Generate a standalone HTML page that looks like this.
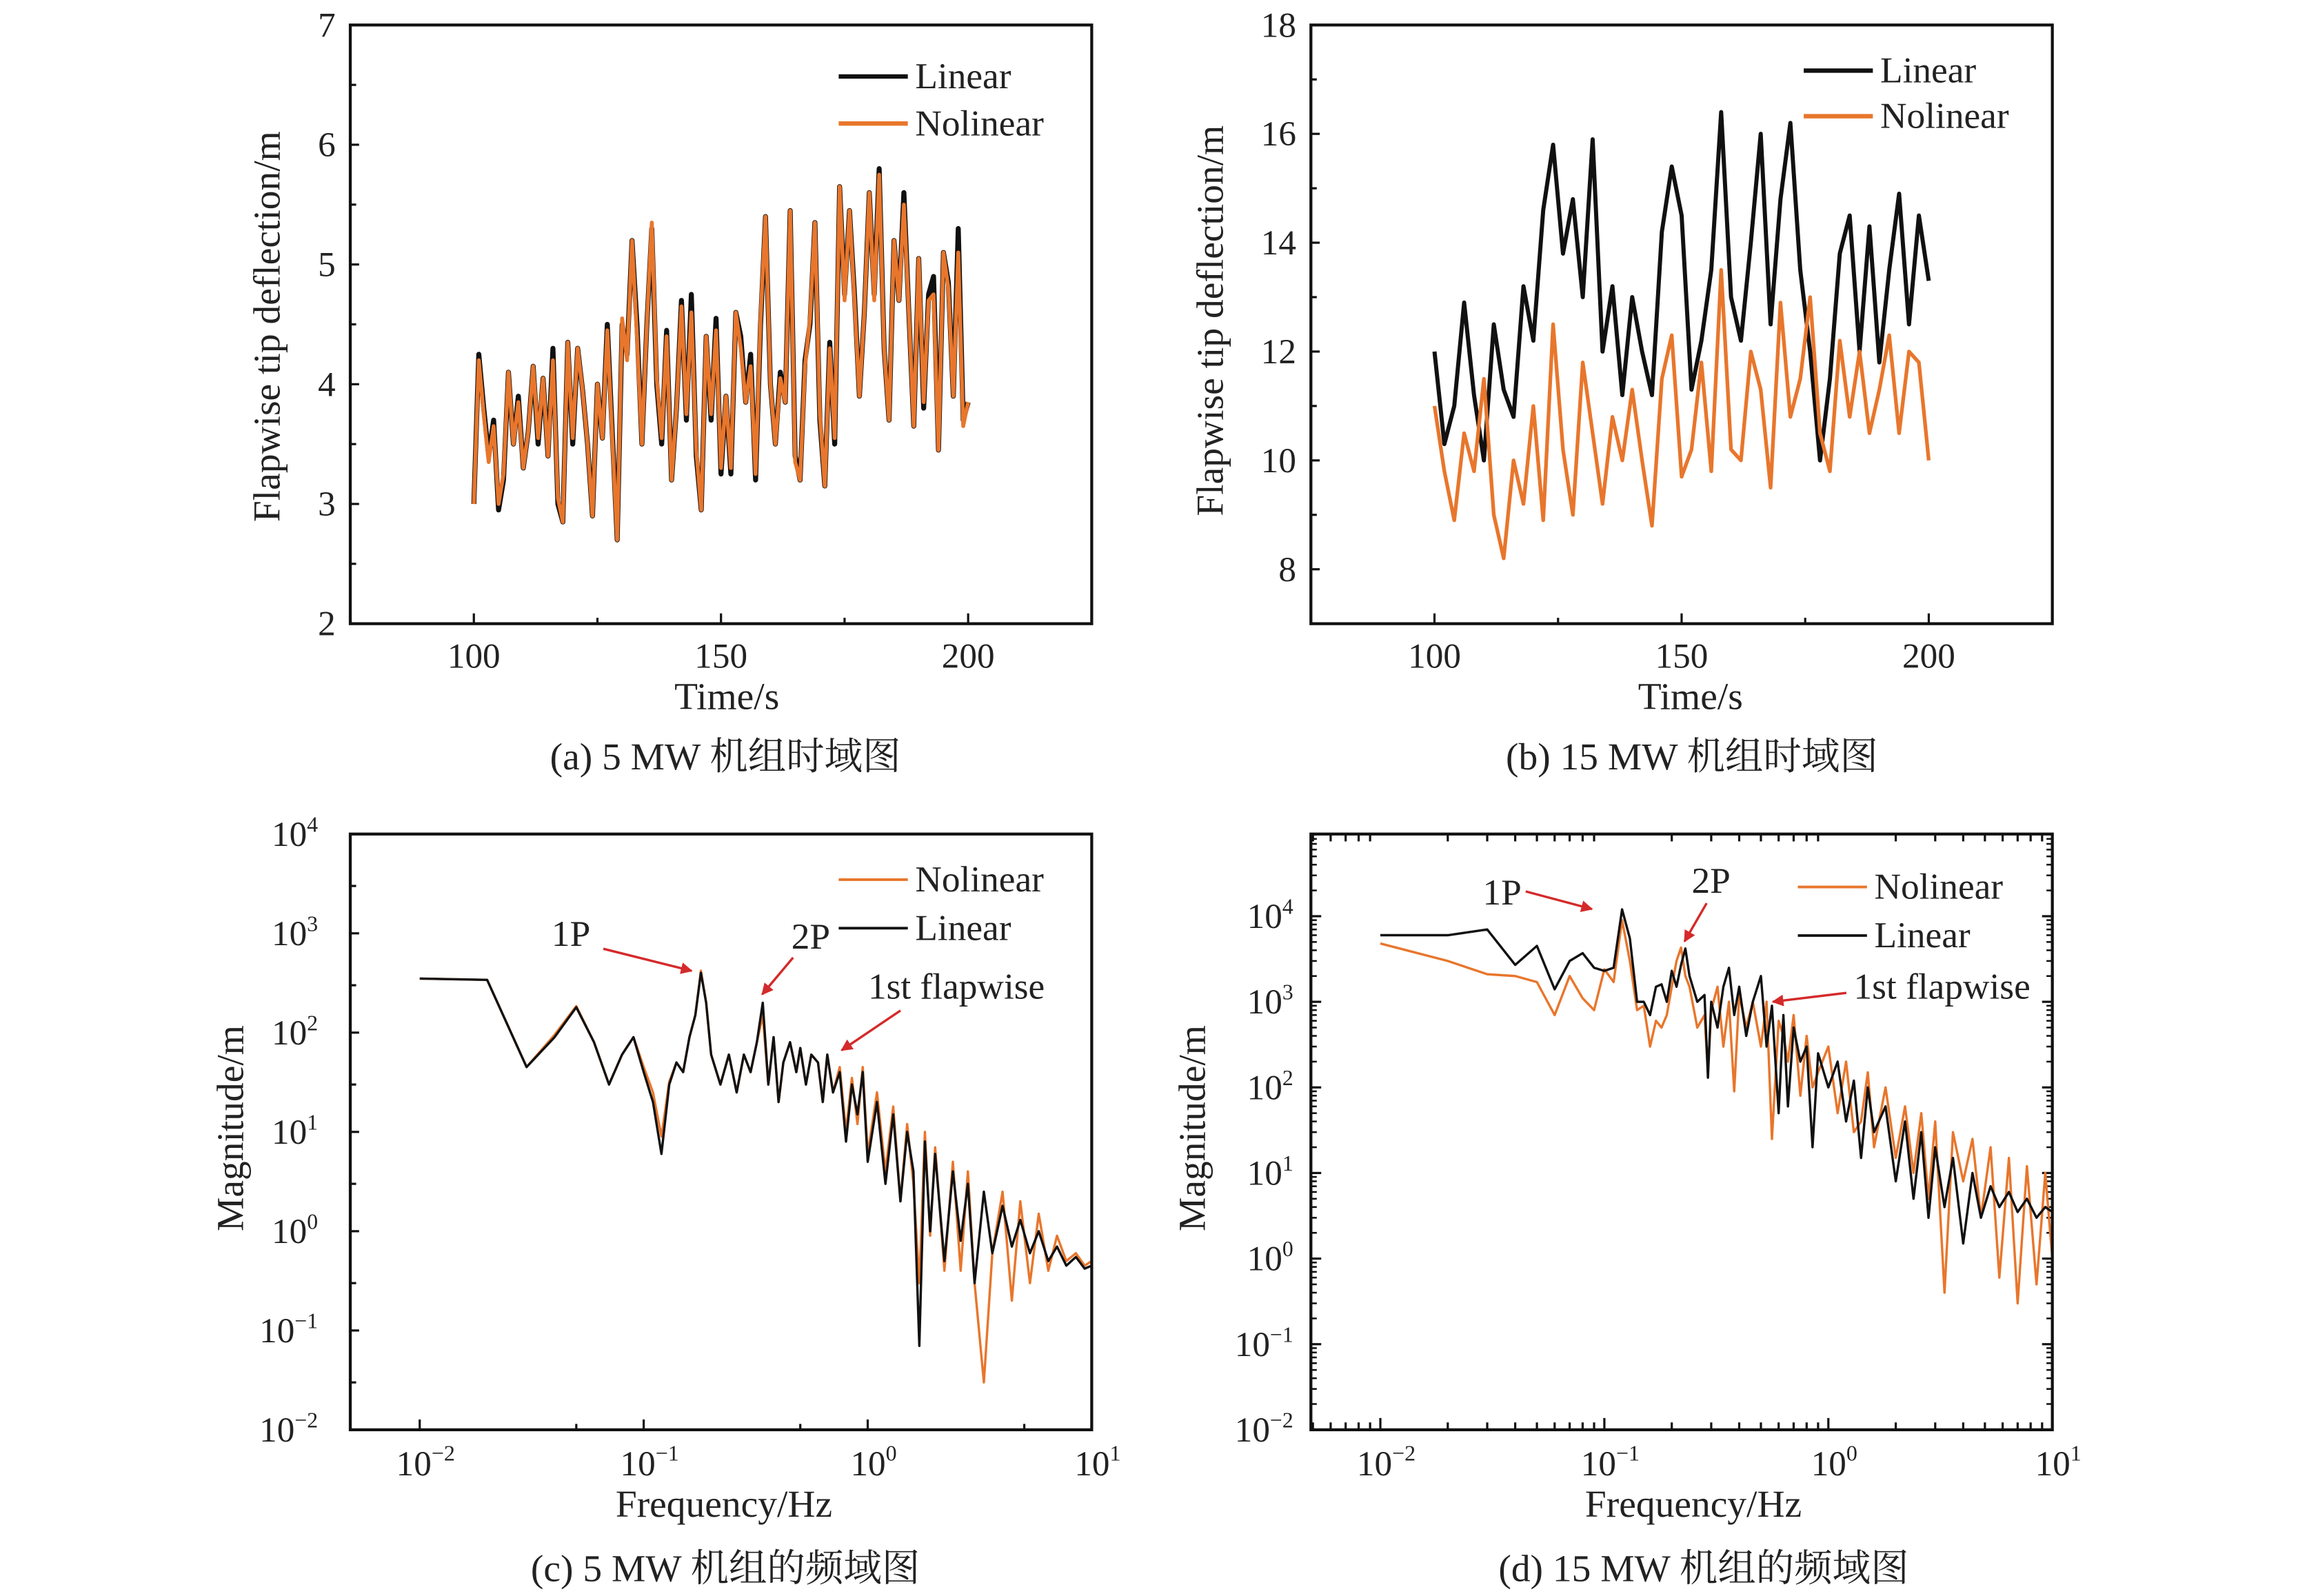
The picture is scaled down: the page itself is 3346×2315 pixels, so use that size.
<!DOCTYPE html>
<html><head><meta charset="utf-8"><style>
html,body{margin:0;padding:0;background:#fff;}
svg{display:block;}
text{font-family:"Liberation Serif","Noto Serif CJK SC",serif;fill:#222;}
</style></head><body>
<svg id="fig" width="3346" height="2315" viewBox="0 0 1568 1085" xmlns="http://www.w3.org/2000/svg">
<defs><marker id="arr" viewBox="0 0 10 10" refX="9" refY="5" markerWidth="5" markerHeight="5" orient="auto"><path d="M0,0 L10,5 L0,10 z" fill="#d42a2a"/></marker></defs>
</svg>
<script>
// ---- Data (a) 5MW time domain, t = 100..200 step 1 ----
const timeA = [100,101,102,103,104,105,106,107,108,109,110,111,112,113,114,115,116,117,118,119,120,121,122,123,124,125,126,127,128,129,130,131,132,133,134,135,136,137,138,139,140,141,142,143,144,145,146,147,148,149,150,151,152,153,154,155,156,157,158,159,160,161,162,163,164,165,166,167,168,169,170,171,172,173,174,175,176,177,178,179,180,181,182,183,184,185,186,187,188,189,190,191,192,193,194,195,196,197,198,199,200];
const linearA = [3.0,4.25,3.8,3.4,3.7,2.95,3.2,4.1,3.5,3.9,3.3,3.6,4.15,3.5,4.05,3.4,4.3,3.0,2.85,4.35,3.5,4.3,3.95,3.5,2.9,4.0,3.55,4.5,3.6,2.7,4.5,4.25,5.2,4.5,3.5,4.5,5.3,4.0,3.5,4.45,3.2,3.8,4.7,3.7,4.75,3.4,2.95,4.4,3.7,4.55,3.25,3.9,3.25,4.6,4.4,3.85,4.25,3.2,4.5,5.4,4.0,3.5,4.1,3.85,5.45,3.4,3.2,4.2,4.5,5.35,3.7,3.15,4.35,3.5,5.65,4.75,5.45,4.75,3.9,4.6,5.6,4.75,5.8,4.3,3.7,5.2,4.7,5.6,4.6,3.65,5.05,3.8,4.75,4.9,3.45,5.1,4.85,3.9,5.3,3.7,3.85];
const nonlinearA = [3.0,4.2,3.75,3.35,3.65,3.0,3.25,4.1,3.5,3.85,3.3,3.6,4.15,3.55,4.05,3.4,4.2,3.05,2.85,4.35,3.55,4.3,3.95,3.5,2.9,4.0,3.55,4.45,3.55,2.7,4.55,4.2,5.2,4.4,3.5,4.5,5.35,4.05,3.55,4.4,3.2,3.8,4.65,3.75,4.6,3.45,2.95,4.4,3.75,4.45,3.3,3.9,3.3,4.6,4.3,3.85,4.15,3.25,4.55,5.4,4.0,3.5,4.05,3.85,5.45,3.35,3.2,4.15,4.55,5.35,3.75,3.15,4.3,3.55,5.65,4.7,5.45,4.7,3.9,4.6,5.6,4.7,5.75,4.3,3.7,5.2,4.7,5.5,4.6,3.65,5.05,3.85,4.7,4.75,3.45,5.1,4.8,3.9,5.1,3.65,3.85];
// ---- Data (b) 15MW time domain, t = 100..200 step 2 ----
const timeB = [100,102,104,106,108,110,112,114,116,118,120,122,124,126,128,130,132,134,136,138,140,142,144,146,148,150,152,154,156,158,160,162,164,166,168,170,172,174,176,178,180,182,184,186,188,190,192,194,196,198,200];
const linearB = [12.0,10.3,11.0,12.9,11.2,10.0,12.5,11.3,10.8,13.2,12.2,14.6,15.8,13.8,14.8,13.0,15.9,12.0,13.2,11.2,13.0,12.0,11.2,14.2,15.4,14.5,11.3,12.2,13.5,16.4,13.0,12.2,14.0,16.0,12.5,14.8,16.2,13.5,12.0,10.0,11.5,13.8,14.5,12.0,14.3,11.8,13.5,14.9,12.5,14.5,13.3];
const nonlinearB = [11.0,9.8,8.9,10.5,9.8,11.5,9.0,8.2,10.0,9.2,11.0,8.9,12.5,10.2,9.0,11.8,10.5,9.2,10.8,10.0,11.3,10.0,8.8,11.5,12.3,9.7,10.2,11.8,9.8,13.5,10.2,10.0,12.0,11.3,9.5,12.9,10.8,11.5,13.0,10.5,9.8,12.2,10.8,12.0,10.5,11.3,12.3,10.5,12.0,11.8,10.0];
// ---- Data (c) 5MW spectrum ----
const freqC = [0.01,0.02,0.03,0.04,0.05,0.06,0.07,0.08,0.09,0.1,0.11,0.12,0.13,0.14,0.15,0.16,0.17,0.18,0.19,0.2,0.22,0.24,0.26,0.28,0.3,0.32,0.34,0.36,0.38,0.4,0.42,0.45,0.48,0.5,0.53,0.56,0.6,0.63,0.66,0.7,0.75,0.8,0.85,0.9,0.95,1.0,1.1,1.2,1.3,1.4,1.5,1.6,1.7,1.8,1.9,2.0,2.2,2.4,2.6,2.8,3.0,3.3,3.6,4.0,4.4,4.8,5.3,5.8,6.4,7.0,7.7,8.5,9.3,10];
const linearC = [350,340,45,90,180,80,30,60,90,40,20,6,30,50,40,90,150,400,200,60,30,60,25,60,40,80,200,30,90,20,50,80,40,70,30,60,50,20,60,25,40,8,30,15,40,5,20,3,15,2,10,4,0.07,8,1,6,0.5,4,0.8,3,0.3,2.5,0.6,1.8,0.7,1.3,0.6,1.0,0.5,0.7,0.45,0.55,0.42,0.45];
const nonlinearC = [350,340,45,95,185,80,30,60,90,45,25,9,32,50,40,90,150,420,200,60,30,60,25,60,40,80,150,30,90,20,50,80,40,70,30,60,50,20,60,25,45,10,35,12,45,6,25,4,18,2,12,3,0.3,10,0.9,7,0.4,5,0.4,4,0.3,0.03,0.6,2.5,0.2,2,0.3,1.5,0.4,0.9,0.5,0.6,0.45,0.5];
// ---- Data (d) 15MW spectrum ----
const freqD = [0.01,0.02,0.03,0.04,0.05,0.06,0.07,0.08,0.09,0.1,0.11,0.12,0.13,0.14,0.15,0.16,0.17,0.18,0.19,0.2,0.21,0.22,0.23,0.24,0.26,0.28,0.29,0.3,0.32,0.34,0.36,0.38,0.4,0.43,0.46,0.5,0.53,0.56,0.6,0.63,0.66,0.7,0.75,0.8,0.85,0.9,1.0,1.1,1.2,1.3,1.4,1.5,1.6,1.8,2.0,2.2,2.4,2.6,2.8,3.0,3.3,3.6,4.0,4.4,4.8,5.3,5.8,6.4,7.0,7.7,8.5,9.3,10];
const linearD = [6000,6000,7000,2700,4500,1400,3000,3700,2500,2300,2500,12000,5500,1000,1000,700,1500,1600,1000,2300,1500,2700,4200,2000,1000,1200,130,1000,500,1500,2500,700,1500,400,1000,2000,300,900,50,700,60,500,200,300,20,250,100,200,40,120,15,100,30,60,8,40,5,30,3,20,4,15,1.5,10,3,7,4,6,3.5,5,3,4,3.5];
const nonlinearD = [4800,3000,2100,2000,1700,700,2000,1100,800,2400,1700,9000,3000,800,900,300,600,500,700,1500,3000,4300,2000,1500,500,700,150,800,1500,300,1000,90,1200,500,1000,300,1000,25,600,400,200,700,80,400,100,150,300,50,200,30,40,150,20,100,15,60,10,50,5,40,0.4,30,8,25,3,20,0.6,15,0.3,12,0.5,10,1];

const svg = document.getElementById('fig');
const NS = 'http://www.w3.org/2000/svg';
function mk(tag, attrs, parent){ const e=document.createElementNS(NS,tag); for(const k in attrs) e.setAttribute(k,attrs[k]); (parent||svg).appendChild(e); return e; }
function txt(x,y,s,size,anchor,parent){ const t=mk('text',{x:x,y:y,'font-size':size,'text-anchor':anchor||'middle'},parent); t.textContent=s; return t; }

function linScale(d0,d1,r0,r1){ return v=>r0+(v-d0)/(d1-d0)*(r1-r0); }
function logScale(d0,d1,r0,r1){ return v=>r0+(Math.log10(v)-d0)/(d1-d0)*(r1-r0); }

const TK=24, LG=25, AX=26, CAP=26;
function frame(g,x0,y0,x1,y1){
  const r=mk('rect',{x:x0,y:y0,width:x1-x0,height:y1-y0,fill:'none',stroke:'#111','stroke-width':2},g);
   
}
function series(g,xs,ys,sx,sy,color,w,name){
  let d=''; xs.forEach((x,i)=>{ d+=(i?'L':'M')+sx(x).toFixed(2)+','+sy(ys[i]).toFixed(2); });
  const p=mk('path',{d:d,fill:'none',stroke:color,'stroke-width':w,'stroke-linejoin':'round'},g);
  
  
}
function legend(g,x,y,label,color,w,size){
  const lg=mk('g',{},g);
  
  
  mk('line',{x1:x,y1:y,x2:x+47,y2:y,stroke:color,'stroke-width':w},lg);
  txt(x+52,y+8,label,size,'start',lg);
}
function arrow(g,x1,y1,x2,y2){
  const a=mk('line',{x1:x1,y1:y1,x2:x2,y2:y2,stroke:'#d42a2a','stroke-width':1.6,'marker-end':'url(#arr)'},g);
   
}
function sup(g,x,y,base,exp,size){
  const t=mk('text',{x:x,y:y,'font-size':size,'text-anchor':'end'},g);
  t.textContent=base;
  const s=mk('tspan',{'font-size':size*0.62,dy:-size*0.4},t); s.textContent=exp;
  return t;
}
const ORANGE='#e8762c';

// ---------- Panel (a) ----------
(function(){
  const g=mk('g',{});  
  const x0=238,x1=742,y0=17,y1=424;
  const sx=linScale(75,225,x0,x1), sy=linScale(2,7,y1,y0);
  [2,2.5,3,3.5,4,4.5,5,5.5,6,6.5,7].forEach(v=>{ const L=(v%1===0)?6:4; mk('line',{x1:x0,y1:sy(v),x2:x0+L,y2:sy(v),stroke:'#111','stroke-width':1.5},g); });
  [2,3,4,5,6,7].forEach(v=>txt(x0-10,sy(v)+8,String(v),TK,'end',g));
  [100,125,150,175,200].forEach(v=>{ const L=(v%50===0)?7:4; mk('line',{x1:sx(v),y1:y1,x2:sx(v),y2:y1-L,stroke:'#111','stroke-width':1.5},g); });
  [100,150,200].forEach(v=>txt(sx(v),454,String(v),TK,'middle',g));
  series(g,timeA,linearA,sx,sy,'#111',3.4,'linear-series');
  series(g,timeA,nonlinearA,sx,sy,ORANGE,2.6,'nonlinear-series');
  frame(g,x0,y0,x1,y1);
  legend(g,570,52,'Linear','#111',3,LG);
  legend(g,570,84,'Nolinear',ORANGE,3,LG);
  txt(494,482,'Time/s',AX,'middle',g);
  const yt=txt(0,0,'Flapwise tip deflection/m',AX,'middle',g); yt.setAttribute('transform','translate(190,222) rotate(-90)'); 
  txt(493,523,'(a) 5 MW 机组时域图',CAP,'middle',g);
})();

// ---------- Panel (b) ----------
(function(){
  const g=mk('g',{});  
  const x0=891,x1=1395,y0=17,y1=424;
  const sx=linScale(75,225,x0,x1), sy=linScale(7,18,y1,y0);
  [8,9,10,11,12,13,14,15,16,17,18].forEach(v=>{ const L=(v%2===0)?6:4; mk('line',{x1:x0,y1:sy(v),x2:x0+L,y2:sy(v),stroke:'#111','stroke-width':1.5},g); });
  [8,10,12,14,16,18].forEach(v=>txt(x0-10,sy(v)+8,String(v),TK,'end',g));
  [100,125,150,175,200].forEach(v=>{ const L=(v%50===0)?7:4; mk('line',{x1:sx(v),y1:y1,x2:sx(v),y2:y1-L,stroke:'#111','stroke-width':1.5},g); });
  [100,150,200].forEach(v=>txt(sx(v),454,String(v),TK,'middle',g));
  series(g,timeB,linearB,sx,sy,'#111',2.8,'linear-series');
  series(g,timeB,nonlinearB,sx,sy,ORANGE,2.5,'nonlinear-series');
  frame(g,x0,y0,x1,y1);
  legend(g,1226,48,'Linear','#111',3,LG);
  legend(g,1226,79,'Nolinear',ORANGE,3,LG);
  txt(1149,482,'Time/s',AX,'middle',g);
  const yt=txt(0,0,'Flapwise tip deflection/m',AX,'middle',g); yt.setAttribute('transform','translate(831,218) rotate(-90)'); 
  txt(1150,523,'(b) 15 MW 机组时域图',CAP,'middle',g);
})();

// ---------- Panel (c) ----------
(function(){
  const g=mk('g',{});  
  const x0=238,x1=742,y0=567,y1=972;
  const sx=logScale(-2.31,1.0,x0,x1), sy=logScale(-2,4,y1,y0);
  for(let e=-2;e<=4;e++){ mk('line',{x1:x0,y1:sy(Math.pow(10,e)),x2:x0+6,y2:sy(Math.pow(10,e)),stroke:'#111','stroke-width':1.5},g);
    if(e<4) mk('line',{x1:x0,y1:sy(3*Math.pow(10,e)),x2:x0+4,y2:sy(3*Math.pow(10,e)),stroke:'#111','stroke-width':1.5},g);
    sup(g,x0-22,sy(Math.pow(10,e))+8,'10',e<0?'\u2212'+(-e):String(e),TK); }
  for(let e=-2;e<=1;e++){ const v=Math.pow(10,e); mk('line',{x1:sx(v),y1:y1,x2:sx(v),y2:y1-7,stroke:'#111','stroke-width':1.5},g);
    if(e<1) mk('line',{x1:sx(5*v),y1:y1,x2:sx(5*v),y2:y1-4,stroke:'#111','stroke-width':1.5},g);
    const t=txt(sx(v)+4,1003,'10',TK,'middle',g); const s=mk('tspan',{'font-size':15,dy:-10},t); s.textContent=e<0?'\u2212'+(-e):String(e); }
  series(g,freqC,nonlinearC,sx,sy,ORANGE,1.6,'nonlinear-series');
  series(g,freqC,linearC,sx,sy,'#111',1.6,'linear-series');
  frame(g,x0,y0,x1,y1);
  legend(g,570,598,'Nolinear',ORANGE,1.8,LG);
  legend(g,570,631,'Linear','#111',1.8,LG);
  txt(388,643,'1P',LG,'middle',g);
  arrow(g,410,645,470,660);
  txt(551,645,'2P',LG,'middle',g);
  arrow(g,539,651,518,676);
  txt(650,679,'1st flapwise',LG,'middle',g);
  arrow(g,612,687,572,714);
  txt(492,1031,'Frequency/Hz',AX,'middle',g);
  const yt=txt(0,0,'Magnitude/m',AX,'middle',g); yt.setAttribute('transform','translate(165,767) rotate(-90)'); 
  txt(493,1075,'(c) 5 MW 机组的频域图',CAP,'middle',g);
})();

// ---------- Panel (d) ----------
(function(){
  const g=mk('g',{});  
  const x0=891,x1=1395,y0=567,y1=972;
  const sx=logScale(-2.31,1.0,x0,x1), sy=logScale(-2,4.96,y1,y0);
  for(let e=-2;e<=4;e++){ const v=Math.pow(10,e);
    [x0,x1].forEach((xx,k)=>{ const dir=k?-1:1; mk('line',{x1:xx,y1:sy(v),x2:xx+dir*7,y2:sy(v),stroke:'#111','stroke-width':1.5},g);
      for(let m=2;m<=9;m++){ mk('line',{x1:xx,y1:sy(m*v),x2:xx+dir*4,y2:sy(m*v),stroke:'#111','stroke-width':1.2},g);} });
    sup(g,x0-12,sy(v)+8,'10',e<0?'\u2212'+(-e):String(e),TK); }
  for(let e=-3;e<=1;e++){ const v=Math.pow(10,e);
    if(e>=-2){ mk('line',{x1:sx(v),y1:y1,x2:sx(v),y2:y1-8,stroke:'#111','stroke-width':1.5},g);
      const t=txt(sx(v)+4,1003,'10',TK,'middle',g); const s=mk('tspan',{'font-size':15,dy:-10},t); s.textContent=e<0?'\u2212'+(-e):String(e); }
    for(let m=2;m<=9;m++){ const f=m*v; if(f<Math.pow(10,-2.31)||f>10) continue; mk('line',{x1:sx(f),y1:y1,x2:sx(f),y2:y1-5,stroke:'#111','stroke-width':1.5},g); mk('line',{x1:sx(f),y1:y0,x2:sx(f),y2:y0+5,stroke:'#111','stroke-width':1.5},g);} }
  series(g,freqD,nonlinearD,sx,sy,ORANGE,1.6,'nonlinear-series');
  series(g,freqD,linearD,sx,sy,'#111',1.6,'linear-series');
  frame(g,x0,y0,x1,y1);
  legend(g,1222,603,'Nolinear',ORANGE,1.8,LG);
  legend(g,1222,636,'Linear','#111',1.8,LG);
  txt(1021,615,'1P',LG,'middle',g);
  arrow(g,1037,606,1082,618);
  txt(1163,607,'2P',LG,'middle',g);
  arrow(g,1160,614,1145,640);
  txt(1320,679,'1st flapwise',LG,'middle',g);
  arrow(g,1255,675,1205,681);
  txt(1151,1031,'Frequency/Hz',AX,'middle',g);
  const yt=txt(0,0,'Magnitude/m',AX,'middle',g); yt.setAttribute('transform','translate(819,767) rotate(-90)'); 
  txt(1158,1075,'(d) 15 MW 机组的频域图',CAP,'middle',g);
})();
</script>
</body></html>
